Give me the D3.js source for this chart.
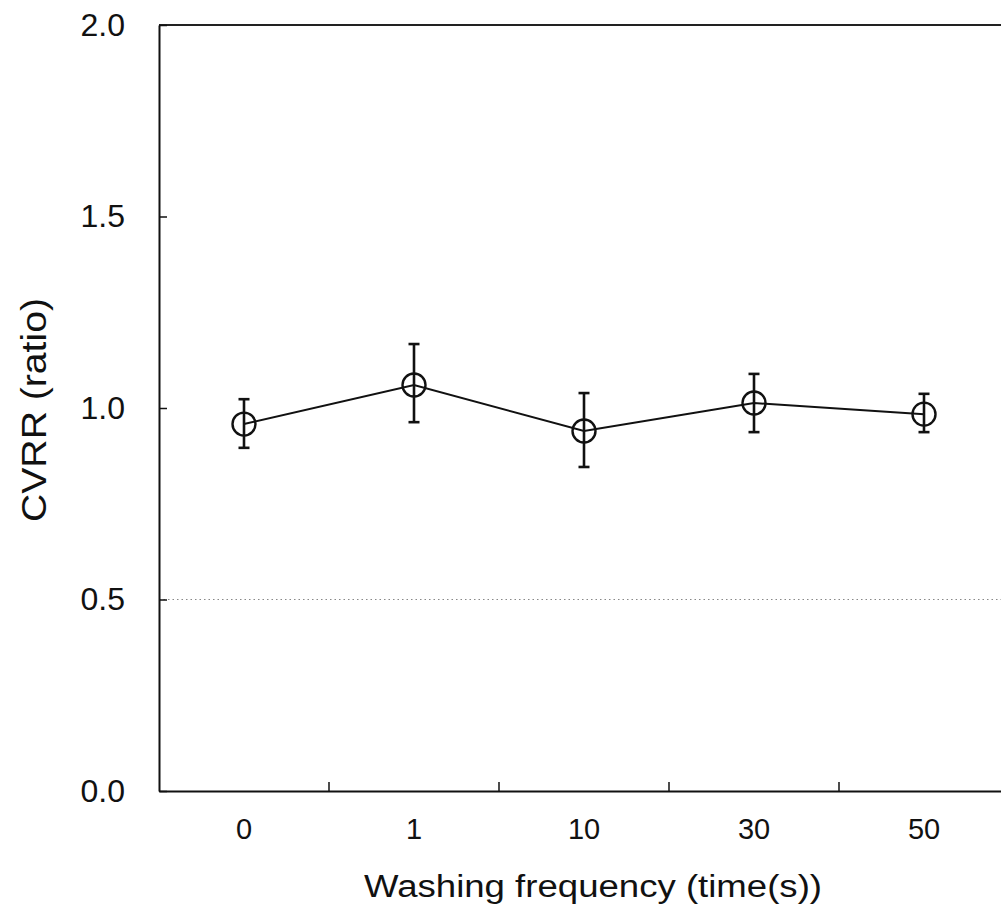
<!DOCTYPE html>
<html><head><meta charset="utf-8">
<script src="https://cdn.jsdelivr.net/npm/d3@7"></script>
<style>body{margin:0;background:#fff;}svg{display:block;font-family:"Liberation Sans",Arial,sans-serif;}</style>
</head><body>
<script>
const categories = ["0","1","10","30","50"];
const means = [0.958, 1.060, 0.940, 1.013, 0.984];
const upper = [1.023, 1.167, 1.039, 1.089, 1.037];
const lower = [0.896, 0.963, 0.846, 0.937, 0.937];
const yTicks = [0.0, 0.5, 1.0, 1.5, 2.0];
const refLine = 0.5;

(function(){
const W = 1001, H = 909;
const svg = d3.select("body").append("svg").attr("width", W).attr("height", H);
const mLeft = 159, mRight = 1009, mTop = 25, mBottom = 791;
const FF = "Liberation Sans, Arial, sans-serif";

const x = d3.scaleBand().domain(categories).range([mLeft, mRight]);
const y = d3.scaleLinear().domain([0, 2]).range([mBottom, mTop]);

// reference dotted line
svg.append("line").attr("x1", mLeft).attr("x2", W).attr("y1", y(refLine)).attr("y2", y(refLine))
  .attr("stroke", "#888").attr("stroke-width", 1.2).attr("stroke-dasharray", "1.5,3");

// top border
svg.append("line").attr("x1", mLeft).attr("x2", W).attr("y1", mTop).attr("y2", mTop)
  .attr("stroke", "#222").attr("stroke-width", 2);

// y axis
const yAxis = d3.axisLeft(y).tickValues(yTicks).tickFormat(d3.format(".1f")).tickSizeInner(-8).tickSizeOuter(0).tickPadding(34);
const gy = svg.append("g").attr("transform", `translate(${mLeft},0)`).call(yAxis);
gy.attr("font-size", null).attr("font-family", null);
gy.select(".domain").attr("stroke", "#111").attr("stroke-width", 2);
gy.selectAll(".tick line").attr("stroke", "#111").attr("stroke-width", 1.5);
gy.selectAll(".tick text").attr("font-size", 32).attr("fill", "#111").attr("font-family", FF);

// x axis
const xAxis = d3.axisBottom(x).tickSize(0).tickPadding(27);
const gx = svg.append("g").attr("transform", `translate(0,${mBottom})`).call(xAxis);
gx.attr("font-size", null).attr("font-family", null);
gx.select(".domain").attr("stroke", "#111").attr("stroke-width", 2);
gx.selectAll(".tick text").attr("font-size", 29).attr("fill", "#111").attr("font-family", FF);
// x tick marks between categories (inward)
const boundaries = categories.slice(1).map(c => x(c));
svg.append("g").selectAll("line").data(boundaries).join("line")
  .attr("x1", d => d).attr("x2", d => d).attr("y1", mBottom).attr("y2", mBottom - 9)
  .attr("stroke", "#111").attr("stroke-width", 1.5);

const cx = c => x(c) + x.bandwidth() / 2;

// line
svg.append("path").datum(categories.map((c, i) => [cx(c), y(means[i])]))
  .attr("d", d3.line()).attr("fill", "none").attr("stroke", "#111").attr("stroke-width", 2);

// error bars
const eb = svg.append("g").attr("stroke", "#111").attr("stroke-width", 2.6);
categories.forEach((c, i) => {
  const X = cx(c);
  eb.append("line").attr("x1", X).attr("x2", X).attr("y1", y(upper[i])).attr("y2", y(lower[i]));
  eb.append("line").attr("x1", X - 5.5).attr("x2", X + 5.5).attr("y1", y(upper[i])).attr("y2", y(upper[i]));
  eb.append("line").attr("x1", X - 5.5).attr("x2", X + 5.5).attr("y1", y(lower[i])).attr("y2", y(lower[i]));
});

// markers
svg.append("g").selectAll("circle").data(categories).join("circle")
  .attr("cx", d => cx(d)).attr("cy", (d, i) => y(means[i])).attr("r", 11.5)
  .attr("fill", "none").attr("stroke", "#111").attr("stroke-width", 2.4);

// axis titles
svg.append("text").attr("x", 593).attr("y", 897).attr("text-anchor", "middle")
  .attr("font-size", 31).attr("fill", "#111").attr("font-family", FF)
  .attr("textLength", 458).attr("lengthAdjust", "spacingAndGlyphs")
  .text("Washing frequency (time(s))");
svg.append("text").attr("transform", `translate(46,410) rotate(-90)`).attr("text-anchor", "middle")
  .attr("font-size", 35).attr("fill", "#111").attr("font-family", FF)
  .attr("textLength", 224).attr("lengthAdjust", "spacingAndGlyphs")
  .text("CVRR (ratio)");
})();
</script>
</body></html>
